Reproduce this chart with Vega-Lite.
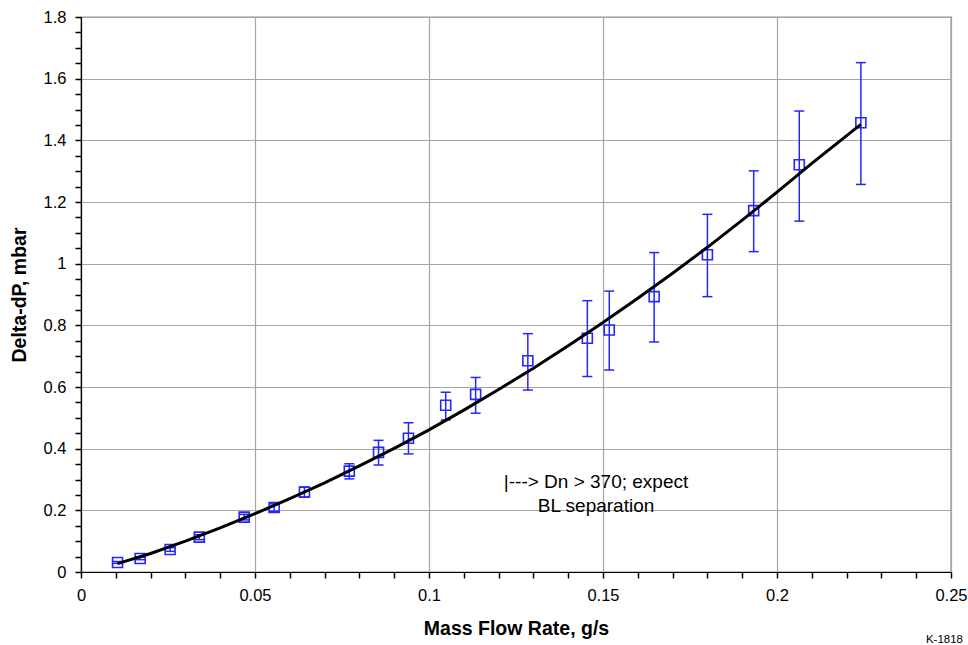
{
  "$schema": "https://vega.github.io/schema/vega-lite/v6.json",
  "autosize": "none",
  "width": 870,
  "height": 555,
  "padding": {"left": 81, "top": 17, "right": 17, "bottom": 73},
  "background": "white",
  "config": {
    "font": "Liberation Sans",
    "view": {"stroke": "#222", "strokeWidth": 1.2},
    "axis": {
      "domainColor": "black",
      "domainWidth": 1.2,
      "labelFont": "Liberation Sans",
      "labelFontSize": 16.5,
      "labelColor": "black",
      "labelPadding": 9,
      "titleFont": "Liberation Sans",
      "titleFontSize": 19.5,
      "titleFontWeight": "bold",
      "titleColor": "black",
      "gridColor": "#a6a6a6"
    },
    "title": {"font": "Liberation Sans"}
  },
  "title": {
    "text": "K-1818",
    "orient": "bottom",
    "anchor": "end",
    "frame": "group",
    "fontSize": 11.5,
    "fontWeight": "normal",
    "color": "black",
    "dx": 12,
    "offset": -4
  },
  "datasets": {
    "meas": [
      {"x": 0.0105, "y": 0.031, "lo": 0.028, "hi": 0.034},
      {"x": 0.0170, "y": 0.044, "lo": 0.040, "hi": 0.048},
      {"x": 0.0256, "y": 0.073, "lo": 0.067, "hi": 0.079},
      {"x": 0.0340, "y": 0.113, "lo": 0.105, "hi": 0.121},
      {"x": 0.0469, "y": 0.178, "lo": 0.169, "hi": 0.187},
      {"x": 0.0555, "y": 0.209, "lo": 0.197, "hi": 0.221},
      {"x": 0.0642, "y": 0.259, "lo": 0.243, "hi": 0.275},
      {"x": 0.0771, "y": 0.327, "lo": 0.302, "hi": 0.351},
      {"x": 0.0855, "y": 0.388, "lo": 0.347, "hi": 0.427},
      {"x": 0.0941, "y": 0.434, "lo": 0.383, "hi": 0.484},
      {"x": 0.1048, "y": 0.541, "lo": 0.493, "hi": 0.583},
      {"x": 0.1134, "y": 0.576, "lo": 0.515, "hi": 0.631},
      {"x": 0.1284, "y": 0.685, "lo": 0.590, "hi": 0.773},
      {"x": 0.1455, "y": 0.758, "lo": 0.634, "hi": 0.880},
      {"x": 0.1518, "y": 0.785, "lo": 0.655, "hi": 0.911},
      {"x": 0.1647, "y": 0.893, "lo": 0.746, "hi": 1.036},
      {"x": 0.1800, "y": 1.029, "lo": 0.893, "hi": 1.160},
      {"x": 0.1933, "y": 1.172, "lo": 1.039, "hi": 1.301},
      {"x": 0.2064, "y": 1.321, "lo": 1.138, "hi": 1.495},
      {"x": 0.2241, "y": 1.457, "lo": 1.257, "hi": 1.652}
    ],
    "fit": [
      {"x": 0.0105, "y": 0.027},
      {"x": 0.02, "y": 0.060},
      {"x": 0.03, "y": 0.100},
      {"x": 0.04, "y": 0.143},
      {"x": 0.05, "y": 0.189},
      {"x": 0.06, "y": 0.238},
      {"x": 0.07, "y": 0.289},
      {"x": 0.08, "y": 0.344},
      {"x": 0.09, "y": 0.401},
      {"x": 0.10, "y": 0.461},
      {"x": 0.11, "y": 0.525},
      {"x": 0.12, "y": 0.592},
      {"x": 0.13, "y": 0.661},
      {"x": 0.14, "y": 0.734},
      {"x": 0.15, "y": 0.809},
      {"x": 0.16, "y": 0.888},
      {"x": 0.17, "y": 0.969},
      {"x": 0.18, "y": 1.053},
      {"x": 0.19, "y": 1.141},
      {"x": 0.20, "y": 1.232},
      {"x": 0.21, "y": 1.325},
      {"x": 0.2241, "y": 1.452}
    ],
    "notes": [
      {"x": 0.148, "y": 0.274, "label": "|---> Dn > 370; expect"},
      {"x": 0.148, "y": 0.194, "label": "BL separation"}
    ]
  },
  "encoding": {
    "x": {
      "field": "x",
      "type": "quantitative",
      "scale": {"domain": [0, 0.25], "nice": false, "zero": false},
      "axis": {
        "title": "Mass Flow Rate, g/s",
        "titlePadding": 16,
        "ticks": true,
        "tickSize": 6,
        "tickWidth": 1.5,
        "tickColor": "black",
        "grid": true,
        "values": [0, 0.01, 0.02, 0.03, 0.04, 0.05, 0.06, 0.07, 0.08, 0.09, 0.1, 0.11, 0.12, 0.13, 0.14, 0.15, 0.16, 0.17, 0.18, 0.19, 0.2, 0.21, 0.22, 0.23, 0.24, 0.25],
        "labelExpr": "abs(datum.value*20 - round(datum.value*20)) < 1e-6 ? format(datum.value, '~g') : ''",
        "gridWidth": {"condition": {"test": "abs(datum.value*20 - round(datum.value*20)) < 1e-6", "value": 1.2}, "value": 0},
        "labelOverlap": false,
        "labelFlush": false
      }
    },
    "y": {
      "field": "y",
      "type": "quantitative",
      "scale": {"domain": [0, 1.8], "nice": false, "zero": false},
      "axis": {
        "title": "Delta-dP, mbar",
        "titlePadding": 14,
        "ticks": true,
        "tickSize": 6,
        "tickWidth": 1.5,
        "tickColor": "black",
        "grid": true,
        "values": [0, 0.05, 0.1, 0.15, 0.2, 0.25, 0.3, 0.35, 0.4, 0.45, 0.5, 0.55, 0.6, 0.65, 0.7, 0.75, 0.8, 0.85, 0.9, 0.95, 1, 1.05, 1.1, 1.15, 1.2, 1.25, 1.3, 1.35, 1.4, 1.45, 1.5, 1.55, 1.6, 1.65, 1.7, 1.75, 1.8],
        "labelExpr": "abs(datum.value*5 - round(datum.value*5)) < 1e-6 ? format(datum.value, '~g') : ''",
        "gridWidth": {"condition": {"test": "abs(datum.value*5 - round(datum.value*5)) < 1e-6", "value": 1.2}, "value": 0},
        "labelOverlap": false,
        "labelFlush": false
      }
    }
  },
  "layer": [
    {
      "data": {"name": "meas"},
      "mark": {"type": "rule", "color": "#2525ff", "strokeWidth": 1.5},
      "encoding": {"y": {"field": "lo", "type": "quantitative"}, "y2": {"field": "hi"}}
    },
    {
      "data": {"name": "meas"},
      "mark": {"type": "tick", "orient": "horizontal", "color": "#2525ff", "size": 10, "thickness": 1.5, "opacity": 1},
      "encoding": {"y": {"field": "lo", "type": "quantitative"}}
    },
    {
      "data": {"name": "meas"},
      "mark": {"type": "tick", "orient": "horizontal", "color": "#2525ff", "size": 10, "thickness": 1.5, "opacity": 1},
      "encoding": {"y": {"field": "hi", "type": "quantitative"}}
    },
    {
      "data": {"name": "meas"},
      "mark": {"type": "point", "shape": "square", "filled": false, "size": 100, "stroke": "#2525ff", "strokeWidth": 1.6, "opacity": 1, "fill": "white", "fillOpacity": 0}
    },
    {
      "data": {"name": "fit"},
      "mark": {"type": "line", "color": "black", "strokeWidth": 3}
    },
    {
      "data": {"name": "notes"},
      "mark": {"type": "text", "align": "center", "baseline": "alphabetic", "fontSize": 19, "color": "black", "font": "Liberation Sans"},
      "encoding": {"text": {"field": "label", "type": "nominal"}}
    }
  ]
}
